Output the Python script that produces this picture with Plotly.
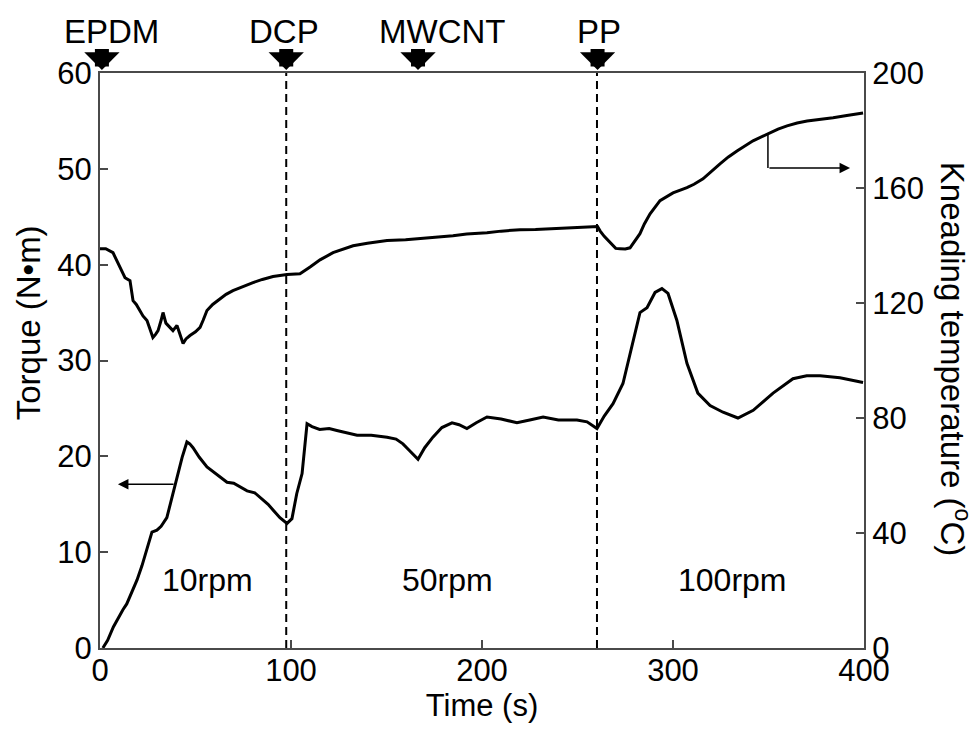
import plotly.graph_objects as go

# ---------------- data ----------------
torque_time = [1.5, 4, 7, 10, 12, 14, 17, 19.4, 22, 24.6, 27.2, 29.8, 32, 35, 38.2, 40.3, 43, 45.5,
               47, 48.7, 52, 56, 60, 63, 66.5, 70, 74, 77, 81, 85.3, 88, 90.6, 94.2, 97.9, 100.5,
               103, 105.8, 108.4, 111, 115, 120, 124, 130, 134.6, 142, 150.3, 155, 158.6, 162,
               166.5, 170, 174.3, 179, 184.3, 188, 192.1, 197, 202.6, 210, 218.3, 225, 232, 240,
               249.7, 255, 260.2, 264, 268.6, 273.8, 278.5, 282.7, 286.4, 290.6, 294.2, 297.4,
               302, 307.3, 313, 319.4, 326.2, 334, 342, 352.4, 362.8, 370, 377, 387.4, 399.5]
torque_value = [0.0, 0.8, 2.2, 3.3, 4.0, 4.6, 6.0, 7.1, 8.6, 10.5, 12.1, 12.3, 12.7, 13.6, 16.1, 17.5,
                19.9, 21.5, 21.3, 20.9, 19.9, 18.9, 18.3, 17.9, 17.3, 17.2, 16.7, 16.4, 16.2, 15.5,
                15.0, 14.4, 13.6, 13.0, 13.5, 16.1, 18.2, 23.4, 23.1, 22.8, 22.9, 22.7, 22.4, 22.2,
                22.2, 22.0, 21.8, 21.3, 20.6, 19.7, 20.9, 22.0, 23.0, 23.5, 23.3, 22.9, 23.5, 24.1,
                23.9, 23.5, 23.8, 24.1, 23.8, 23.8, 23.6, 22.9, 24.2, 25.5, 27.6, 31.4, 35.0, 35.5,
                37.1, 37.5, 37.0, 34.2, 29.7, 26.6, 25.3, 24.6, 24.0, 24.8, 26.6, 28.1, 28.4, 28.4,
                28.2, 27.7]

temp_time = [0, 3, 6.8, 8.9, 11, 13.1, 15.7, 17.3, 19, 20.9, 22.5, 24.6, 26, 27.7, 29, 30.4, 32, 33,
             34.5, 35.6, 38.2, 40.3, 42, 43.5, 45, 47.1, 50, 52.4, 54, 56, 59, 62.8, 66, 69.6, 75,
             80.1, 85, 90.6, 97.9, 104.7, 110, 115.2, 122, 132.5, 140, 150.3, 160, 167.5, 175,
             184.8, 192, 202.6, 210, 219.9, 228, 237.2, 248, 258.1, 260.5, 261.8, 264, 267, 270,
             272.3, 275, 277.5, 280, 282.7, 285, 288, 293.2, 300, 307.3, 311, 315.7, 320, 324.6,
             329, 333.5, 341.9, 349.7, 355, 359.7, 365, 370.2, 377, 383.8, 391, 399.5]
temp_value = [138.9, 138.9, 137.5, 134.7, 131.5, 128.8, 127.8, 120.8, 119.5, 117.4, 115.5, 113.9,
              111.0, 108.0, 109.0, 110.4, 114.0, 116.7, 113.0, 112.2, 110.4, 112.2, 108.5, 105.9,
              107.5, 108.7, 110.0, 111.5, 114.0, 117.4, 119.5, 121.5, 123.0, 124.3, 125.8, 127.1,
              128.2, 129.2, 129.9, 130.2, 132.5, 135.0, 137.5, 139.9, 140.8, 141.7, 142.0, 142.4,
              142.7, 143.4, 144.0, 144.4, 145.0, 145.5, 145.6, 145.8, 146.3, 146.5, 146.6, 145.1,
              143.2, 141.0, 139.0, 138.9, 138.8, 139.2, 141.5, 144.1, 147.5, 151.0, 155.6, 158.3,
              160.1, 161.3, 163.2, 165.8, 168.4, 170.8, 172.9, 176.4, 178.8, 180.5, 181.6, 182.6,
              183.3, 183.8, 184.4, 185.2, 186.1]

event_labels = ["EPDM", "DCP", "MWCNT", "PP"]
event_times = [1, 97.5, 166.5, 260.5]
dashed_times = [97.5, 260.2]

speed_labels = ["10rpm", "50rpm", "100rpm"]
speed_times = [56.5, 182, 331]
speed_torque = 7.1

x_ticks = [0, 100, 200, 300, 400]
torque_ticks = [0, 10, 20, 30, 40, 50, 60]
temp_ticks = [0, 40, 80, 120, 160, 200]

# ---------------- figure ----------------
FONT = "Arial, Liberation Sans, Helvetica, sans-serif"
AXC = "#4a4a4a"

fig = go.Figure()
fig.add_trace(go.Scatter(x=torque_time, y=torque_value, mode="lines",
                         line=dict(color="black", width=3), yaxis="y", showlegend=False))
fig.add_trace(go.Scatter(x=temp_time, y=temp_value, mode="lines",
                         line=dict(color="black", width=3), yaxis="y2", showlegend=False))

shapes = []
for t in dashed_times:
    shapes.append(dict(type="line", xref="x", yref="paper", x0=t, x1=t, y0=0, y1=1,
                       line=dict(color="black", width=2, dash="8px,5px")))
# vertical part of the temperature indicator arrow
shapes.append(dict(type="line", xref="x", yref="y2", x0=349.7, x1=349.7, y0=178.8, y1=167,
                   line=dict(color="black", width=1.5)))

annotations = []
label_shift = [10, -2, 24, 1]
for lab, t, sh in zip(event_labels, event_times, label_shift):
    annotations.append(dict(x=t, y=1.073, xref="x", yref="paper", text=lab, showarrow=False,
                            xshift=sh, xanchor="center", yanchor="middle",
                            font=dict(size=33, color="black", family=FONT)))
    annotations.append(dict(x=t, y=1.0052, xref="x", yref="paper", text=" ", showarrow=True,
                            ax=0, ay=-23, arrowhead=1, arrowsize=0.42, arrowwidth=14,
                            arrowcolor="black", standoff=0, font=dict(size=1)))

for lab, t in zip(speed_labels, speed_times):
    annotations.append(dict(x=t, y=speed_torque, xref="x", yref="y", text=lab, showarrow=False,
                            font=dict(size=32, color="black", family=FONT)))

# axis indicator arrows
annotations.append(dict(x=9.4, y=17.1, xref="x", yref="y", ax=39.3, ay=17.1, axref="x", ayref="y",
                        text="", showarrow=True, arrowhead=2, arrowsize=1.4, arrowwidth=1.5,
                        arrowcolor="black", standoff=0))
annotations.append(dict(x=392.7, y=167, xref="x", yref="y2", ax=349.7, ay=167, axref="x", ayref="y2",
                        text="", showarrow=True, arrowhead=2, arrowsize=1.4, arrowwidth=1.5,
                        arrowcolor="black", standoff=0))

# y axis titles
annotations.append(dict(x=-0.094, y=0.565, xref="paper", yref="paper", text="Torque (N•m)",
                        xanchor="center", yanchor="middle",
                        textangle=-90, showarrow=False, font=dict(size=33, color="black", family=FONT)))
annotations.append(dict(x=1.119, y=0.503, xref="paper", yref="paper",
                        text="Kneading temperature (<sup>o</sup>C)",
                        xanchor="center", yanchor="middle",
                        textangle=90, showarrow=False, font=dict(size=33, color="black", family=FONT)))

fig.update_layout(
    width=975, height=733,
    margin=dict(l=100, r=111, t=73, b=85, autoexpand=False),
    paper_bgcolor="white", plot_bgcolor="white",
    font=dict(family=FONT, color="black", size=31),
    shapes=shapes, annotations=annotations,
    xaxis=dict(range=[0, 400], tickvals=x_ticks, ticks="inside", ticklen=8, tickwidth=1.5,
               tickcolor=AXC, showline=True, linecolor=AXC, linewidth=2, mirror=True,
               showgrid=False, zeroline=False, tickfont=dict(size=31), automargin=False,
               ticklabelstandoff=-6,
               title=dict(text="Time (s)", font=dict(size=31), standoff=0)),
    yaxis=dict(range=[0, 60], tickvals=torque_ticks, ticks="inside", ticklen=8, tickwidth=1.5,
               tickcolor=AXC, showline=True, linecolor=AXC, linewidth=2, automargin=False,
               showgrid=False, zeroline=False, tickfont=dict(size=31)),
    yaxis2=dict(range=[0, 200], tickvals=temp_ticks, ticks="inside", ticklen=8, tickwidth=1.5,
                tickcolor=AXC, showline=True, linecolor=AXC, linewidth=2, overlaying="y",
                side="right", showgrid=False, zeroline=False, tickfont=dict(size=31),
                automargin=False),
)

fig.write_html("out.html", config={"displayModeBar": False},
               post_script="document.body.style.margin='0';")
